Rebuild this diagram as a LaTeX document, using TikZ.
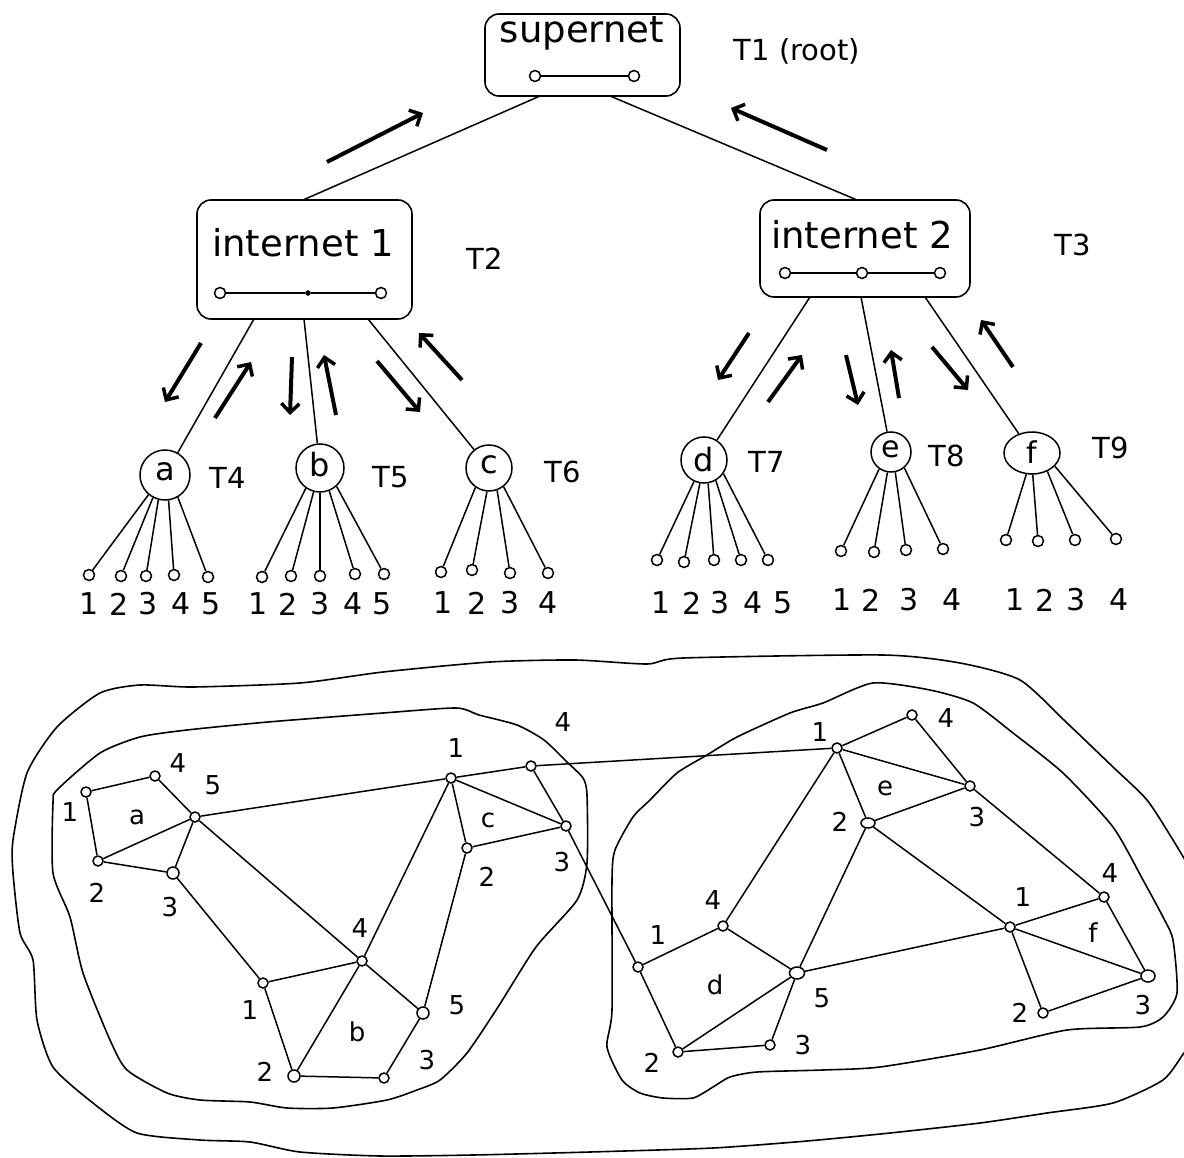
\documentclass[tikz,border=0pt]{standalone}
\usepackage{fontspec}
\setmainfont{DejaVu Sans}
\usetikzlibrary{arrows.meta,shapes.geometric}
\begin{document}
\begin{tikzpicture}[x=1pt,y=-1pt,
  every node/.style={inner sep=0pt},
  thinline/.style={line width=1.5pt},
  boxnode/.style={draw, line width=1.6pt, rounded corners=14pt},
  hub/.style={draw, circle, line width=1.5pt},
  leaf/.style={draw, circle, line width=1.5pt, minimum size=11pt, fill=white},
  gnode/.style={draw, circle, line width=1.5pt, minimum size=10pt, fill=white},
  bigtxt/.style={font=\fontsize{37}{37}\selectfont},
  tlab/.style={font=\fontsize{29}{29}\selectfont},
  dig/.style={font=\fontsize{30}{30}\selectfont},
  glab/.style={font=\fontsize{26}{26}\selectfont},
  flow/.style={line width=4pt, -{Straight Barb[length=9pt,width=18pt,line width=3.5pt]}},
  contour/.style={line width=1.6pt},
]
\useasboundingbox (0,0) rectangle (1184,1158);
\clip (0,0) rectangle (1184,1158);

% ---------------- top tree ----------------
\node[boxnode, minimum width=195pt, minimum height=82pt] (sn) at (582.5,55) {};
\node[bigtxt] (sntxt) at (582,33) {supernet};
\node[leaf] (snl) at (535,76) {};
\node[leaf] (snr) at (634,76) {};
\draw[thinline] (snl) -- (snr);
\node[tlab] (t1) at (797,51) {T1 (root)};

\node[boxnode, minimum width=215pt, minimum height=119pt] (i1) at (304.5,259.5) {};
\node[bigtxt] (i1txt) at (303,243) {internet 1};
\node[leaf] (i1l) at (220,293) {};
\node[draw, circle, fill=black, minimum size=5pt] (i1m) at (308,293) {};
\node[leaf] (i1r) at (381,293) {};
\draw[thinline] (i1l) -- (i1m) -- (i1r);
\node[tlab] (t2) at (485,259) {T2};

\node[boxnode, minimum width=210pt, minimum height=97pt] (i2) at (865,248.5) {};
\node[bigtxt] (i2txt) at (862,235) {internet 2};
\node[leaf] (i2l) at (785,273) {};
\node[leaf] (i2m) at (862,273) {};
\node[leaf] (i2r) at (940,273) {};
\draw[thinline] (i2l) -- (i2m) -- (i2r);
\node[tlab] (t3) at (1073,245) {T3};

\coordinate (snA) at (540,96);
\coordinate (snB) at (610,96);
\coordinate (i1top) at (303,200);
\coordinate (i2top) at (857,200);
\draw[thinline] (snA) -- (i1top);
\draw[thinline] (snB) -- (i2top);

\draw[flow] (327,162) -- (423,113);
\draw[flow] (827,150) -- (731,108);

% second level hubs
\node[hub, minimum size=50pt] (a) at (165,475) {};
\node[font=\fontsize{32}{32}\selectfont] at (165,472) {a};
\node[tlab] (t4) at (228,478) {T4};
\node[hub, minimum size=48pt] (b) at (320,468) {};
\node[font=\fontsize{32}{32}\selectfont] at (320,465) {b};
\node[tlab] (t5) at (391,477) {T5};
\node[hub, minimum size=46pt] (c) at (489,468) {};
\node[font=\fontsize{32}{32}\selectfont] at (489,465) {c};
\node[tlab] (t6) at (563,472) {T6};

\node[hub, minimum size=46pt] (d) at (704,460) {};
\node[font=\fontsize{32}{32}\selectfont] at (704,460) {d};
\node[tlab] (t7) at (767,462) {T7};
\node[hub, minimum size=40pt] (e) at (891,452) {};
\node[font=\fontsize{30}{30}\selectfont] at (891,449) {e};
\node[tlab] (t8) at (947,456) {T8};
\node[hub, ellipse, minimum width=56pt, minimum height=42pt] (f) at (1032,453) {};
\node[font=\fontsize{30}{30}\selectfont] at (1032,452) {f};
\node[tlab] (t9) at (1111,448) {T9};

\coordinate (i1a) at (254,319);
\coordinate (i1b) at (304,319);
\coordinate (i1c) at (368,319);
\draw[thinline] (i1a) -- (a);
\draw[thinline] (i1b) -- (b);
\draw[thinline] (i1c) -- (c);
\coordinate (i2d) at (810,297);
\coordinate (i2e) at (861,297);
\coordinate (i2f) at (925,297);
\draw[thinline] (i2d) -- (d);
\draw[thinline] (i2e) -- (e);
\draw[thinline] (i2f) -- (f);

\draw[flow] (201,343) -- (165,402);
\draw[flow] (215,418) -- (251,362);
\draw[flow] (292,357) -- (290,415);
\draw[flow] (336,415) -- (324,355);
\draw[flow] (377,361) -- (420,412);
\draw[flow] (462,380) -- (419,333);

\draw[flow] (749,333) -- (718,380);
\draw[flow] (768,402) -- (802,355);
\draw[flow] (846,355) -- (858,405);
\draw[flow] (899,398) -- (891,350);
\draw[flow] (932,347) -- (968,390);
\draw[flow] (1013,367) -- (981,320);

% leaves
\foreach \i/\lx/\ly/\tx/\ang in {1/89/575/89/-130, 2/121/576/119/-118, 3/146/576/148/-105, 4/174/575/181/-82, 5/208/577/211/-60}{
  \node[leaf] (la\i) at (\lx,\ly) {};
  \node[dig] (na\i) at (\tx,604) {\i};
  \draw[thinline] (a.\ang) -- (la\i);
}
\foreach \i/\lx/\ly/\tx/\ang in {1/262/577/258/-125, 2/291/576/288/-105, 3/320/576/320/-90, 4/355/574/353/-68, 5/384/574/382/-48}{
  \node[leaf] (lb\i) at (\lx,\ly) {};
  \node[dig] (nb\i) at (\tx,604) {\i};
  \draw[thinline] (b.\ang) -- (lb\i);
}
\foreach \i/\lx/\ly/\tx/\ang in {1/441/572/443/-125, 2/472/570/477/-95, 3/510/573/510/-70, 4/548/573/548/-52}{
  \node[leaf] (lc\i) at (\lx,\ly) {};
  \node[dig] (nc\i) at (\tx,603) {\i};
  \draw[thinline] (c.\ang) -- (lc\i);
}
\foreach \i/\lx/\ly/\tx/\ang in {1/657/560/661/-115, 2/684/562/692/-100, 3/714/560/720/-80, 4/741/560/753/-60, 5/768/560/783/-35}{
  \node[leaf] (ld\i) at (\lx,\ly) {};
  \node[dig] (nd\i) at (\tx,603) {\i};
  \draw[thinline] (d.\ang) -- (ld\i);
}
\foreach \i/\lx/\ly/\tx/\ang in {1/841/551/842/-125, 2/874/552/871/-100, 3/906/550/909/-78, 4/943/549/952/-50}{
  \node[leaf] (le\i) at (\lx,\ly) {};
  \node[dig] (ne\i) at (\tx,600) {\i};
  \draw[thinline] (e.\ang) -- (le\i);
}
\foreach \i/\lx/\ly/\tx/\ang in {1/1006/540/1015/-105, 2/1038/541/1045/-88, 3/1075/540/1076/-50, 4/1116/539/1119/-30}{
  \node[leaf] (lf\i) at (\lx,\ly) {};
  \node[dig] (nf\i) at (\tx,600) {\i};
  \draw[thinline] (f.\ang) -- (lf\i);
}

% ---------------- bottom map ----------------
\draw[contour] plot[smooth, tension=0.4] coordinates {(1200,1035) (1184,1053) (1163,1080) (1113,1103) (1047,1113) (980,1123) (890,1133) (807,1141) (713,1148) (590,1152) (473,1155) (380,1156) (300,1152) (250,1142) (200,1140) (137,1133) (93,1103) (53,1067) (37,1020) (33,960) (20,933) (13,873) (13,840) (27,773) (57,727) (100,693) (140,685) (193,687) (300,683) (383,672) (490,662) (575,660) (647,664) (683,658) (883,655) (960,663) (1020,680) (1067,723) (1113,767) (1147,800) (1173,840) (1200,885)};

\draw[contour] plot[smooth cycle, tension=0.4] coordinates {(57,790) (100,753) (140,737) (187,730) (268,722) (383,713) (456,708) (479,715) (517,725) (544,740) (567,762) (583,778) (587,795) (587,863) (577,900) (536,947) (498,1007) (467,1053) (440,1080) (417,1090) (387,1100) (333,1108) (287,1108) (250,1102) (200,1100) (167,1093) (127,1070) (110,1040) (83,973) (70,917) (53,873) (53,803)};

\draw[contour] plot[smooth cycle, tension=0.4] coordinates {(612,880) (615,850) (633,817) (650,800) (677,773) (707,755) (737,737) (790,713) (823,703) (873,683) (930,690) (973,703) (1013,733) (1063,773) (1113,827) (1143,880) (1163,917) (1173,940) (1177,993) (1163,1017) (1140,1027) (1067,1030) (980,1050) (880,1067) (823,1070) (757,1072) (730,1077) (713,1087) (693,1098) (663,1098) (640,1093) (622,1080) (607,1047) (612,1010)};

% nodes
\node[gnode] (a1) at (86,792) {};
\node[gnode] (a4) at (155,776) {};
\node[gnode] (a5) at (195,817) {};
\node[gnode] (a2) at (98,861) {};
\node[gnode, minimum size=12pt] (a3) at (173,873) {};
\node[gnode] (c1) at (451,778) {};
\node[gnode] (c4) at (531,766) {};
\node[gnode] (c3) at (566,826) {};
\node[gnode] (c2) at (467,848) {};
\node[gnode] (b4) at (362,961) {};
\node[gnode] (b1) at (263,983) {};
\node[gnode, minimum size=12pt] (b5) at (423,1013) {};
\node[gnode, minimum size=12pt] (b2) at (294,1076) {};
\node[gnode] (b3) at (384,1078) {};
\node[gnode] (e1) at (837,748) {};
\node[gnode] (e4) at (912,715) {};
\node[gnode] (e3) at (970,786) {};
\node[gnode, ellipse, minimum width=14pt, minimum height=10pt] (e2) at (868,823) {};
\node[gnode] (d4) at (723,926) {};
\node[gnode] (d1) at (638,967) {};
\node[gnode, ellipse, minimum width=15pt, minimum height=12pt] (d5) at (797,973) {};
\node[gnode] (d2) at (678,1052) {};
\node[gnode] (d3) at (770,1045) {};
\node[gnode] (f1) at (1010,927) {};
\node[gnode] (f4) at (1104,897) {};
\node[gnode, ellipse, minimum width=14pt, minimum height=12pt] (f3) at (1148,976) {};
\node[gnode] (f2) at (1043,1013) {};

% edges
\draw[thinline] (a1) -- (a4) -- (a5) -- (a2) -- (a1);
\draw[thinline] (a2) -- (a3) -- (a5);
\draw[thinline] (a5) -- (c1);
\draw[thinline] (a5) -- (b4);
\draw[thinline] (a3) -- (b1);
\draw[thinline] (c1) -- (c4) -- (c3) -- (c1);
\draw[thinline] (c1) -- (c2) -- (c3);
\draw[thinline] (c1) -- (b4);
\draw[thinline] (c2) -- (b5);
\draw[thinline] (c4) -- (e1);
\draw[thinline] (c3) -- (d1);
\draw[thinline] (b1) -- (b4) -- (b5) -- (b3) -- (b2) -- (b1);
\draw[thinline] (b4) -- (b2);
\draw[thinline] (e1) -- (e4) -- (e3) -- (e1);
\draw[thinline] (e1) -- (e2) -- (e3);
\draw[thinline] (e1) -- (d4);
\draw[thinline] (e2) -- (d5);
\draw[thinline] (e2) -- (f1);
\draw[thinline] (e3) -- (f4);
\draw[thinline] (d1) -- (d4) -- (d5) -- (d3) -- (d2) -- (d1);
\draw[thinline] (d2) -- (d5);
\draw[thinline] (d5) -- (f1);
\draw[thinline] (f1) -- (f4) -- (f3) -- (f2) -- (f1);
\draw[thinline] (f1) -- (f3);

% labels
\node[glab] at (70,812) {1};
\node[glab] at (178,763) {4};
\node[glab] at (213,785) {5};
\node[glab] at (137,817) {a};
\node[glab] at (97,893) {2};
\node[glab] at (170,907) {3};
\node[glab] at (456,748) {1};
\node[glab] at (563,722) {4};
\node[glab] at (488,820) {c};
\node[glab] at (562,862) {3};
\node[glab] at (487,877) {2};
\node[glab] at (360,928) {4};
\node[glab] at (250,1010) {1};
\node[glab] at (457,1005) {5};
\node[glab] at (357,1032) {b};
\node[glab] at (265,1072) {2};
\node[glab] at (427,1060) {3};
\node[glab] at (820,732) {1};
\node[glab] at (946,718) {4};
\node[glab] at (885,788) {e};
\node[glab] at (977,817) {3};
\node[glab] at (840,822) {2};
\node[glab] at (713,900) {4};
\node[glab] at (658,935) {1};
\node[glab] at (715,985) {d};
\node[glab] at (822,998) {5};
\node[glab] at (803,1045) {3};
\node[glab] at (652,1063) {2};
\node[glab] at (1023,897) {1};
\node[glab] at (1110,873) {4};
\node[glab] at (1093,933) {f};
\node[glab] at (1143,1005) {3};
\node[glab] at (1020,1013) {2};
\end{tikzpicture}
\end{document}
